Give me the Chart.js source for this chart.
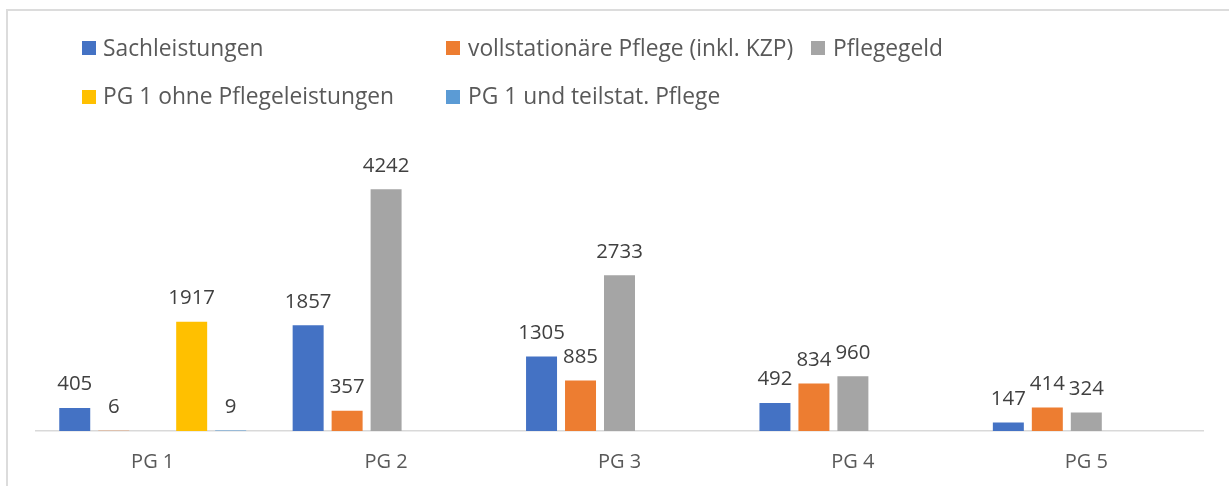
<!DOCTYPE html>
<html>
<head>
<meta charset="utf-8">
<script src="https://cdn.jsdelivr.net/npm/chart.js@4.4.1/dist/chart.umd.min.js"></script>
<style>
  html, body { margin:0; padding:0; background:#fff; }
  #wrap { position:relative; width:1229px; height:486px; overflow:hidden; background:#fff; }
  #frame { position:absolute; left:6px; top:9px; width:1300px; height:600px; border-top:2px solid #dcdcdc; border-left:2px solid #dcdcdc; box-sizing:border-box; }
  #chartBox { position:absolute; left:0; top:0; width:1229px; height:486px; }
  .lg { position:absolute; font-family:"Open Sans", sans-serif; font-size:22.8px; color:#595959; white-space:nowrap; line-height:30px; }
  .sw { position:absolute; width:14px; height:14px; }
</style>
</head>
<body>
<div id="wrap">
  <div id="frame"></div>
  <div id="chartBox"><canvas id="c" width="1229" height="486"></canvas></div>
  <div id="legend"></div>
</div>
<script>
// ---- data ----
const categories = ['PG 1', 'PG 2', 'PG 3', 'PG 4', 'PG 5'];
const seriesNames = ['Sachleistungen', 'vollstationäre Pflege (inkl. KZP)', 'Pflegegeld', 'PG 1 ohne Pflegeleistungen', 'PG 1 und teilstat. Pflege'];
const sachleistungen = [405, 1857, 1305, 492, 147];
const vollstationaer = [6, 357, 885, 834, 414];
const pflegegeld = [null, 4242, 2733, 960, 324];
const pg1OhneLeistungen = [1917, null, null, null, null];
const pg1Teilstat = [9, null, null, null, null];
const seriesColors = ['#4472C4', '#ED7D31', '#A5A5A5', '#FFC000', '#5B9BD5'];

// legend layout (HTML text)
const legendPos = [
  {box:[82,41], text:[103,33]},
  {box:[446,41], text:[468,33]},
  {box:[811,41], text:[833,33]},
  {box:[82,90], text:[103,81]},
  {box:[446,90], text:[468,81]}
];
const legendEl = document.getElementById('legend');
seriesNames.forEach((name, i) => {
  const sw = document.createElement('div');
  sw.className = 'sw';
  sw.style.left = legendPos[i].box[0] + 'px';
  sw.style.top = legendPos[i].box[1] + 'px';
  sw.style.background = seriesColors[i];
  legendEl.appendChild(sw);
  const t = document.createElement('div');
  t.className = 'lg';
  t.style.left = legendPos[i].text[0] + 'px';
  t.style.top = legendPos[i].text[1] + 'px';
  t.textContent = name;
  legendEl.appendChild(t);
});

const valueLabels = {
  id: 'valueLabels',
  afterDraw(chart) {
    const ctx = chart.ctx;
    ctx.save();
    ctx.font = '20.4px "Open Sans"';
    ctx.fillStyle = '#404040';
    ctx.textAlign = 'center';
    ctx.textBaseline = 'alphabetic';
    chart.data.datasets.forEach((ds, i) => {
      const meta = chart.getDatasetMeta(i);
      meta.data.forEach((bar, j) => {
        const v = ds.data[j];
        if (v === null || v === undefined) return;
        ctx.fillText(String(v), bar.x, bar.y - 17.5);
      });
    });
    ctx.restore();
  }
};

function draw() {
  const allSeries = [sachleistungen, vollstationaer, pflegegeld, pg1OhneLeistungen, pg1Teilstat];
  new Chart(document.getElementById('c'), {
    type: 'bar',
    data: {
      labels: categories,
      datasets: allSeries.map((d, i) => ({
        label: seriesNames[i],
        data: d,
        backgroundColor: seriesColors[i],
        borderWidth: 0,
        categoryPercentage: 0.835,
        barPercentage: 0.795
      }))
    },
    options: {
      responsive: false,
      animation: false,
      layout: { padding: { left: 36, right: 26, top: 174.5, bottom: 0 } },
      plugins: { legend: { display: false }, tooltip: { enabled: false }, title: { display: false } },
      scales: {
        x: {
          z: 1,
          grid: { display: false, drawTicks: false },
          border: { display: true, color: '#d9d9d9', width: 1.5 },
          ticks: { color: '#595959', font: { family: 'Open Sans', size: 20 }, padding: 19 },
          afterFit(scale) { scale.height = 55; }
        },
        y: { display: false, min: 0, max: 4500 }
      }
    },
    plugins: [valueLabels]
  });
}
if (document.fonts && document.fonts.load) {
  document.fonts.load('20px "Open Sans"').then(draw, draw);
} else { draw(); }
</script>
</body>
</html>
